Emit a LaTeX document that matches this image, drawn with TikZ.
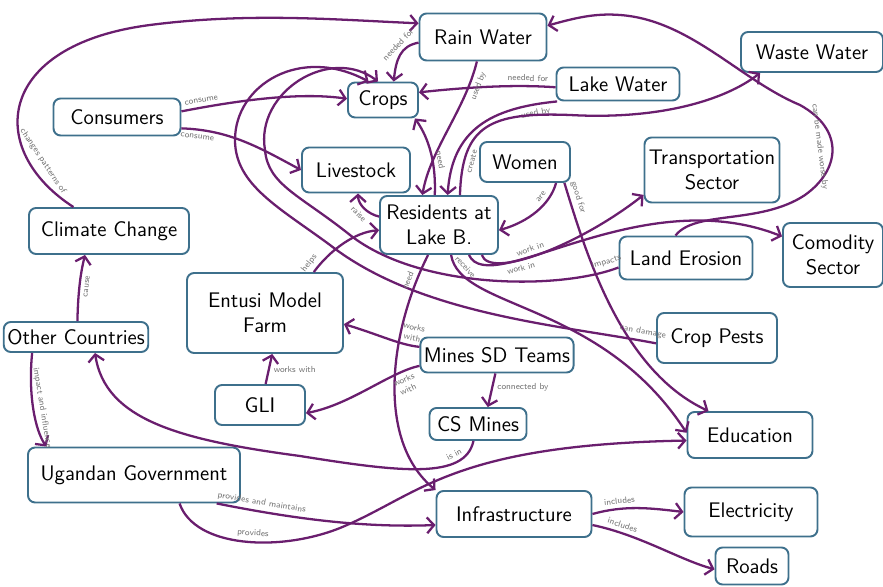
\documentclass[tikz,border=0pt]{standalone}
\usetikzlibrary{arrows.meta}
\definecolor{boxblue}{RGB}{62,112,140}
\definecolor{linkpurple}{RGB}{106,30,110}

\begin{document}
\begin{tikzpicture}[x=0.02cm,y=-0.02cm,
  concept/.style={draw=boxblue,line width=1.1pt,rounded corners=4pt,align=center,font=\sffamily\large,inner sep=2pt},
  link/.style={linkpurple,line width=1.3pt,-{Straight Barb[length=4pt,width=9pt]}},
  lbl/.style={font=\sffamily\tiny,text=black!55,inner sep=2.2pt,align=center}]
\useasboundingbox (0,0) rectangle (883,587);
\node[concept,minimum width=2.54cm,minimum height=0.94cm] (rain) at (483,37) {Rain Water};
\node[concept,minimum width=2.46cm,minimum height=0.66cm] (lake) at (618,84) {Lake Water};
\node[concept,minimum width=2.84cm,minimum height=0.8cm] (waste) at (812,52) {Waste Water};
\node[concept,minimum width=1.4cm,minimum height=0.7cm] (crops) at (383,100) {Crops};
\node[concept,minimum width=2.54cm,minimum height=0.74cm] (consumers) at (117,117) {Consumers};
\node[concept,minimum width=2.16cm,minimum height=0.9cm] (livestock) at (356,170) {Livestock};
\node[concept,minimum width=1.8cm,minimum height=0.8cm] (women) at (525,162) {Women};
\node[concept,minimum width=2.7cm,minimum height=1.3cm] (transport) at (712,170) {Transportation\\Sector};
\node[concept,minimum width=2.36cm,minimum height=1.16cm] (residents) at (439,225) {Residents at\\Lake B.};
\node[concept,minimum width=3.2cm,minimum height=0.92cm] (climate) at (109,231) {Climate Change};
\node[concept,minimum width=2.0cm,minimum height=1.28cm] (comodity) at (833,255) {Comodity\\Sector};
\node[concept,minimum width=2.66cm,minimum height=0.86cm] (erosion) at (686,258) {Land Erosion};
\node[concept,minimum width=3.12cm,minimum height=1.6cm] (entusi) at (265,313) {Entusi Model\\Farm};
\node[concept,minimum width=2.56cm,minimum height=0.6cm] (others) at (76,337) {Other Countries};
\node[concept,minimum width=2.4cm,minimum height=1.0cm] (pests) at (717,338) {Crop Pests};
\node[concept,minimum width=2.94cm,minimum height=0.7cm] (mines) at (497,355) {Mines SD Teams};
\node[concept,minimum width=1.8cm,minimum height=0.8cm] (gli) at (260,405) {GLI};
\node[concept,minimum width=1.94cm,minimum height=0.64cm] (csmines) at (478,424) {CS Mines};
\node[concept,minimum width=2.5cm,minimum height=0.92cm] (education) at (750,435) {Education};
\node[concept,minimum width=4.24cm,minimum height=1.1cm] (uganda) at (134,475) {Ugandan Government};
\node[concept,minimum width=3.1cm,minimum height=0.92cm] (infra) at (514,514) {Infrastructure};
\node[concept,minimum width=2.66cm,minimum height=0.98cm] (electricity) at (751,512) {Electricity};
\node[concept,minimum width=1.46cm,minimum height=0.74cm] (roads) at (752,566) {Roads};

\draw[link] (climate.146) .. controls (-15,150) and (-5,45) .. (150,25) node[lbl,sloped,pos=.2,above=2pt]{changes patterns of} .. controls (250,12) and (340,20) .. (rain.168);
\draw[link] (rain.185) .. controls (400,46) and (396,60) .. (crops.60) node[lbl,sloped,pos=.35,above]{needed for};
\draw[link] (lake.183) .. controls (510,84) and (460,88) .. (crops.12) node[lbl,sloped,pos=.2,above]{needed for};
\draw[link] (consumers.5) .. controls (240,100) and (300,92) .. (crops.178) node[lbl,sloped,pos=.12,above]{consume};
\draw[link] (consumers.-10) .. controls (230,130) and (260,148) .. (livestock.180) node[lbl,sloped,pos=.12,below]{consume};
\draw[link] (rain.-104) .. controls (465,110) and (430,150) .. (residents.119) node[lbl,sloped,pos=.15,below]{used by};
\draw[link] (lake.-164) .. controls (490,108) and (452,130) .. (residents.74) node[lbl,sloped,pos=.12,below]{used by};
\draw[link] (residents.98) .. controls (436,165) and (430,140) .. (crops.-30) node[lbl,sloped,pos=.4,above]{need};
\draw[link] (residents.55) .. controls (462,125) and (490,112) .. (570,115) node[lbl,sloped,pos=.2,below]{create} .. controls (660,120) and (725,100) .. (waste.-158);
\draw[link] (women.-34) .. controls (550,205) and (528,222) .. (residents.-5) node[lbl,sloped,pos=.3,above]{are};
\draw[link] (women.-28) .. controls (585,250) and (620,370) .. (education.150) node[lbl,sloped,pos=.08,above]{good for};
\draw[link] (residents.-68) .. controls (460,310) and (600,300) .. (education.178) node[lbl,sloped,pos=.12,above]{receive};
\draw[link] (residents.-35) .. controls (490,280) and (580,245) .. (transport.200) node[lbl,sloped,pos=.45,above]{work in};
\draw[link] (residents.-45) .. controls (490,300) and (640,180) .. (comodity.160) node[lbl,sloped,pos=.3,below]{work in};
\draw[link] (erosion.188) .. controls (560,290) and (420,290) .. (350,235) node[lbl,sloped,pos=.05,above]{impacts} .. controls (300,195) and (268,185) .. (265,150) .. controls (255,92) and (330,45) .. (crops.105);
\draw[link] (pests.185) .. controls (560,325) and (420,315) .. (330,245) node[lbl,sloped,pos=.05,above]{can damage} .. controls (280,208) and (235,185) .. (235,140) .. controls (235,85) and (300,45) .. (crops.128);
\draw[link] (erosion.115) .. controls (695,210) and (760,225) .. (805,195) .. controls (840,170) and (845,130) .. (800,105) node[lbl,sloped,pos=.55,below=2pt]{can be made worse by} .. controls (740,80) and (690,20) .. (620,15) .. controls (595,13) and (575,18) .. (rain.10);
\draw[link] (residents.172) .. controls (368,214) and (358,205) .. (livestock.-85) node[lbl,sloped,pos=.5,below]{raise};
\draw[link] (entusi.40) .. controls (330,250) and (355,232) .. (residents.185) node[lbl,sloped,pos=.05,above]{helps};
\draw[link] (residents.-110) .. controls (390,330) and (375,440) .. (infra.north west) node[lbl,sloped,pos=.12,above]{need};
\draw[link] (mines.174) .. controls (400,345) and (380,335) .. (entusi.-8) node[lbl,sloped,pos=.15,above]{works\\with};
\draw[link] (mines.188) .. controls (390,372) and (350,405) .. (gli.-10) node[lbl,sloped,pos=.2,below]{works\\with};
\draw[link] (gli.75) -- (entusi.-80) node[lbl,midway,right]{works with};
\draw[link] (mines.-95) -- (csmines.60) node[lbl,pos=.4,right]{connected by};
\draw[link] (csmines.-105) .. controls (465,480) and (400,472) .. (300,456) node[lbl,sloped,pos=.24,above]{is in} .. controls (180,440) and (105,420) .. (others.-40);
\draw[link] (uganda.-19) .. controls (290,518) and (360,528) .. (infra.188) node[lbl,sloped,pos=.2,above]{provides and maintains};
\draw[link] (uganda.-32) .. controls (195,548) and (280,552) .. (340,528) node[lbl,sloped,pos=.55,above]{provides} .. controls (420,495) and (450,445) .. (education.185);
\draw[link] (infra.east) .. controls (625,505) and (650,508) .. (electricity.west) node[lbl,sloped,pos=.3,above]{includes};
\draw[link] (infra.-8) .. controls (640,535) and (680,560) .. (roads.185) node[lbl,sloped,pos=.2,above]{includes};
\draw[link] (others.85) .. controls (78,295) and (80,275) .. (climate.-135) node[lbl,sloped,pos=.5,below]{cause};
\draw[link] (others.-160) .. controls (28,395) and (35,430) .. (uganda.162) node[lbl,sloped,pos=.5,above]{impact and influence};
\end{tikzpicture}
\end{document}
